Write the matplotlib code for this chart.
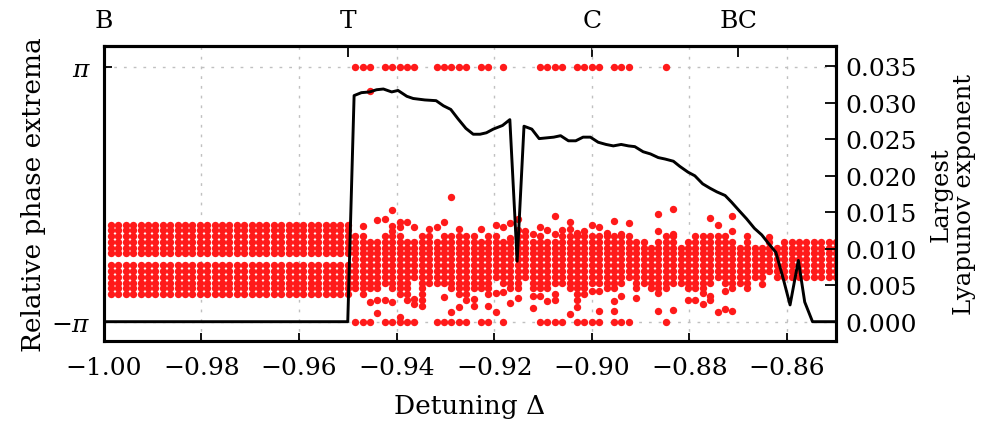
import numpy as np
import matplotlib
matplotlib.use('Agg')
import matplotlib.pyplot as plt

# detuning sweep, one column of phase extrema per value
detuning = np.linspace(-1.0, -0.85, 100)

# rows on which the phase extrema sit
phase_rows = [-0.46, -0.61, -0.75, -0.89, -1.03, -1.18, -1.32, -1.46, -1.61,
              -1.75, -1.89, -2.04, -2.18, -2.32, -2.46, -2.61, -2.75]

# periodic part: columns 1..33, two bands of rows
periodic_cols = list(range(1, 34))
periodic_rows = [2, 3, 4, 5, 6, 7, 9, 10, 11, 12, 13, 14]

# chaotic part: columns 34..91, top and bottom of the band of extrema
chaos_cols = list(range(34, 92))
chaos_top = [-0.98, -1.02, -1.15, -1.23, -1.06, -1.06, -1.06, -1.15, -1.19, -1.06,
             -1.06, -1.19, -1.06, -1.06, -1.06, -1.06, -0.98, -1.15, -1.06, -1.02,
             -1.15, -1.23, -0.90, -1.02, -1.23, -1.02, -1.19, -1.19, -1.06, -1.06,
             -1.10, -1.06, -0.98, -0.98, -1.06, -1.10, -1.06, -1.10, -1.19, -1.15,
             -1.31, -1.19, -1.02, -1.06, -1.27, -1.19, -1.02, -1.02, -1.06, -1.15,
             -0.98, -1.15, -1.27, -0.98, -1.35, -1.27, -1.19, -1.31]
chaos_bottom = [-2.34, -2.42, -2.38, -2.38, -2.17, -2.34, -2.50, -2.58, -2.05, -2.75,
                -2.17, -2.17, -2.13, -2.34, -2.29, -2.46, -2.25, -2.25, -2.46, -2.09,
                -2.21, -2.25, -2.29, -2.09, -2.38, -2.21, -2.25, -2.21, -2.13, -2.29,
                -2.62, -2.38, -2.17, -2.13, -2.25, -2.34, -2.17, -2.05, -2.38, -2.21,
                -2.29, -2.25, -2.34, -2.21, -2.21, -2.38, -2.25, -2.34, -2.17, -2.09,
                -2.13, -2.25, -2.21, -2.29, -2.01, -2.05, -1.88, -2.01]

# locked part near the end: columns 92..99
locked_cols = list(range(92, 100))
locked_top = -1.18
locked_bottom = -2.04

# single extrema outside the bands
stray_col = [35, 36, 36, 37, 37, 37, 38, 38, 39, 39, 39, 39, 40, 40, 40, 41, 42, 42, 42,
             44, 45, 46, 46, 47, 47, 48, 48, 48, 49, 50, 50, 51, 52, 53, 53, 53, 54, 54,
             55, 55, 55, 56, 56, 57, 58, 58, 58, 59, 59, 59, 60, 60, 61, 61, 61, 61, 62,
             63, 63, 63, 64, 64, 65, 65, 66, 66, 67, 67, 67, 68, 69, 69, 69, 70, 70, 71,
             72, 75, 75, 75, 75, 77, 77, 77, 79, 80, 81, 81, 82, 82, 82, 83, 83, 83, 84,
             84, 85, 85, 85, 89, 90]
stray_phase = [-0.78, 2.55, -2.66, -0.65, -2.62, -2.93, -0.61, -2.62, -0.39, -0.78,
               -0.91, -2.66, -0.69, -0.82, -3.03, -0.69, -0.82, -2.58, -2.71, -0.86,
               -0.82, -0.69, -2.54, -0.08, -2.91, -0.86, -2.46, -2.79, -2.62, -2.58,
               -2.75, -0.86, -2.75, -0.76, -2.43, -2.91, -0.80, -2.42, -0.71, -1.09,
               -2.69, -0.61, -2.56, -0.90, -0.98, -2.52, -2.81, -0.82, -2.32, -2.52,
               -0.88, -2.64, -0.53, -0.98, -2.46, -2.62, -0.88, -0.69, -0.86, -2.95,
               -0.96, -2.79, -0.90, -2.46, -0.75, -2.38, -0.82, -2.38, -2.87, -0.96,
               -0.67, -2.64, -2.88, -0.98, -2.52, -0.71, -2.56, -0.49, -0.91, -2.43,
               -2.87, -0.36, -0.98, -2.85, -2.62, -2.61, -2.43, -2.71, -0.59, -2.50,
               -2.62, -0.75, -1.02, -2.91, -2.38, -2.83, -0.53, -0.90, -2.87, -2.21,
               -1.06]

# columns where the extrema reach +pi and -pi
wrap_cols = [34, 35, 36, 38, 39, 40, 41, 42, 45, 46, 47, 48, 49, 51, 52, 54, 59, 60,
             61, 62, 64, 65, 66, 67, 69, 70, 71, 76]

# largest Lyapunov exponent
lyap_x = [-1.0, -0.9500, -0.9487, -0.9472, -0.9455, -0.9441, -0.9427, -0.9410, -0.9397,
          -0.9379, -0.9366, -0.9342, -0.9319, -0.9304, -0.9289, -0.9274, -0.9258, -0.9243,
          -0.9229, -0.9216, -0.9202, -0.9183, -0.9168, -0.9153, -0.9139, -0.9123, -0.9108,
          -0.9093, -0.9078, -0.9064, -0.9048, -0.9033, -0.9018, -0.9003, -0.8987, -0.8971,
          -0.8956, -0.8940, -0.8925, -0.8912, -0.8895, -0.8880, -0.8864, -0.8850, -0.8833,
          -0.8820, -0.8803, -0.8789, -0.8773, -0.8758, -0.8744, -0.8727, -0.8714, -0.8698,
          -0.8683, -0.8667, -0.8652, -0.8639, -0.8623, -0.8608, -0.8594, -0.8577, -0.8564,
          -0.8548, -0.85]
lyap_y = [0.0, 0.0, 0.0310, 0.0314, 0.0315, 0.0318, 0.0319, 0.0315, 0.0317,
          0.0309, 0.0306, 0.0304, 0.0303, 0.0296, 0.0291, 0.0278, 0.0265, 0.0257,
          0.0257, 0.0259, 0.0264, 0.0269, 0.0277, 0.0083, 0.0268, 0.0264, 0.0251,
          0.0252, 0.0253, 0.0255, 0.0248, 0.0248, 0.0253, 0.0253, 0.0246, 0.0243,
          0.0241, 0.0243, 0.0241, 0.0240, 0.0233, 0.0230, 0.0225, 0.0223, 0.0220,
          0.0213, 0.0205, 0.0200, 0.0189, 0.0183, 0.0178, 0.0173, 0.0164, 0.0152,
          0.0141, 0.0128, 0.0119, 0.0108, 0.0095, 0.0059, 0.0023, 0.0084, 0.0027,
          0.0, 0.0]

top_ticks = [-1.0, -0.95, -0.90, -0.87]
top_labels = ['B', 'T', 'C', 'BC']


def rows_in_band(top, bottom):
    return [r for r in phase_rows if bottom - 0.07 <= r <= top + 0.07]


def collect_extrema():
    xs, ys = [], []
    for k in periodic_cols:
        for i in periodic_rows:
            xs.append(detuning[k])
            ys.append(phase_rows[i])
    for k, top, bot in zip(chaos_cols, chaos_top, chaos_bottom):
        for r in rows_in_band(top, bot):
            xs.append(detuning[k])
            ys.append(r)
    for k in locked_cols:
        for r in rows_in_band(locked_top, locked_bottom):
            xs.append(detuning[k])
            ys.append(r)
    for k, p in zip(stray_col, stray_phase):
        xs.append(detuning[k])
        ys.append(p)
    for k in wrap_cols:
        xs += [detuning[k], detuning[k]]
        ys += [np.pi, -np.pi]
    return xs, ys


def main():
    plt.rcParams['font.family'] = 'DejaVu Serif'
    plt.rcParams['mathtext.fontset'] = 'dejavuserif'

    fig, ax = plt.subplots(figsize=(9.9, 4.27), dpi=100)
    fig.subplots_adjust(left=0.1047, right=0.8444, bottom=0.199, top=0.890)

    xs, ys = collect_extrema()
    ax.plot(xs, ys, 'o', color='#ff1a1a', ms=5.3, mew=0)

    ax.set_xlim(-1.0, -0.85)
    ax.set_ylim(-3.62, 3.65)
    ax.set_xticks([-1.0, -0.98, -0.96, -0.94, -0.92, -0.90, -0.88, -0.86])
    ax.set_xticklabels(['\u22121.00', '\u22120.98', '\u22120.96', '\u22120.94',
                        '\u22120.92', '\u22120.90', '\u22120.88', '\u22120.86'])
    ax.set_yticks([-np.pi, np.pi])
    ax.set_yticklabels([r'$-\pi$', r'$\pi$'])
    ax.tick_params(axis='x', direction='in', length=6, width=1.3, labelsize=18, pad=11)
    ax.tick_params(axis='y', direction='in', length=6, width=1.3, labelsize=18, pad=9)
    ax.grid(True, color='#c0c0c0', linestyle=(0, (2, 5)), linewidth=1)
    ax.set_xlabel('Detuning \u0394', fontsize=19, labelpad=10)
    ax.set_ylabel('Relative phase extrema', fontsize=19, labelpad=4)

    ax2 = ax.twinx()
    ax2.plot(lyap_x, lyap_y, color='k', lw=2.1)
    ax2.set_ylim(-0.00265, 0.0378)
    ax2.set_yticks([0.0, 0.005, 0.01, 0.015, 0.02, 0.025, 0.03, 0.035])
    ax2.set_yticklabels(['0.000', '0.005', '0.010', '0.015', '0.020',
                         '0.025', '0.030', '0.035'])
    ax2.tick_params(direction='in', length=8, width=1.3, labelsize=18, pad=7)
    ax2.set_ylabel('Largest\nLyapunov exponent', fontsize=17.5, labelpad=9,
                   linespacing=1.0)

    sec = ax.secondary_xaxis('top')
    sec.set_xticks(top_ticks)
    sec.set_xticklabels(top_labels)
    sec.tick_params(direction='in', length=8, width=1.3, labelsize=18, pad=10)

    for a in (ax, ax2, sec):
        for s in a.spines.values():
            s.set_linewidth(2.2)

    fig.savefig('out.png', dpi=100)


if __name__ == "__main__":
    main()
